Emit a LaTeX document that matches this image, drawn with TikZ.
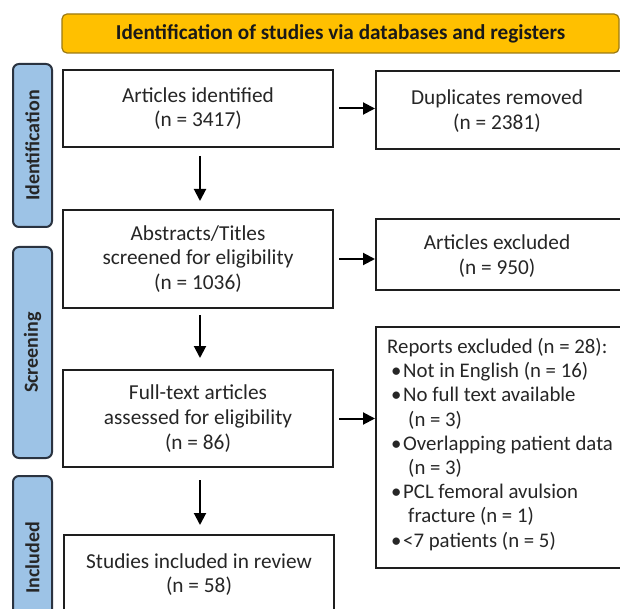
\documentclass[tikz,border=0pt]{standalone}
\usepackage{fontspec}
\setmainfont{Carlito}
\usetikzlibrary{arrows.meta}
\definecolor{hdrfill}{HTML}{FFC000}
\definecolor{hdrline}{HTML}{9C7A12}
\definecolor{sidefill}{HTML}{9DC3E6}
\definecolor{sideline}{HTML}{2A3340}
\definecolor{txt}{HTML}{262626}
\definecolor{boxline}{HTML}{1E1E1E}
\tikzset{
  bodyfont/.style={font=\fontsize{21.3}{24.6}\selectfont},
  flowbox/.style={draw=boxline, line width=2pt, fill=white, align=center, text=txt,
    bodyfont, inner sep=0pt},
  sidebox/.style={draw=sideline, line width=2pt, fill=sidefill, rounded corners=6pt,
    rotate=90, inner sep=0pt, font=\bfseries\fontsize{20}{22}\selectfont, text=black!85},
  hdrbox/.style={draw=hdrline, line width=1.2pt, fill=hdrfill, rounded corners=5pt,
    inner sep=0pt, font=\bfseries\fontsize{21.2}{22}\selectfont, text=black!90},
  flowarrow/.style={draw=black, line width=2pt, -{Triangle[length=12pt,width=12pt]}}
}
\newcommand{\bul}{\makebox[14pt][c]{\textbullet}}
\begin{document}
\begin{tikzpicture}[x=1pt,y=-1pt]
\useasboundingbox (0,0) rectangle (620,609);
\fill[white] (0,0) rectangle (620,609);
\clip (0,0) rectangle (620,609);
\node[hdrbox, minimum width=557pt, minimum height=39pt] (hdr) at (340.5,33.5) {Identification of studies via databases and registers};
\node[sidebox, minimum width=163pt, minimum height=39pt] (sid) at (32.5,145.5) {Identification};
\node[sidebox, minimum width=211pt, minimum height=39pt] (sscr) at (32.5,352.5) {Screening};
\node[sidebox, minimum width=164pt, minimum height=39pt] (sinc) at (32.5,558) {Included};
\node[flowbox, minimum width=270pt, minimum height=77pt] (A) at (198,108.5) {Articles identified\\(n = 3417)};
\node[flowbox, minimum width=249pt, minimum height=78pt] (dup) at (500.5,110) {};
\node[align=center, text=txt, bodyfont, inner sep=0pt] (duptext) at (497,111) {Duplicates removed\\(n = 2381)};
\node[flowbox, minimum width=270pt, minimum height=98pt] (B) at (198,259) {Abstracts/Titles\\screened for eligibility\\(n = 1036)};
\node[flowbox, minimum width=249pt, minimum height=71pt] (excl) at (500.5,254.5) {};
\node[align=center, text=txt, bodyfont, inner sep=0pt] (excltext) at (497,256) {Articles excluded\\(n = 950)};
\node[flowbox, minimum width=270pt, minimum height=97pt] (C) at (198,418.5) {Full-text articles\\assessed for eligibility\\(n = 86)};
\node[flowbox, minimum width=249pt, minimum height=241pt] (rep) at (500.5,447.5) {};
\node[anchor=north west, align=left, text=txt, inner sep=0pt, font=\fontsize{20.8}{24.2}\selectfont] (reptext) at (387,338) {Reports excluded (n = 28):\\
\hspace*{2pt}\bul Not in English (n = 16)\\
\hspace*{2pt}\bul No full text available\\
\hspace*{21pt}(n = 3)\\
\hspace*{2pt}\bul Overlapping patient data\\
\hspace*{21pt}(n = 3)\\
\hspace*{2pt}\bul PCL femoral avulsion\\
\hspace*{21pt}fracture (n = 1)\\
\hspace*{2pt}\bul <7 patients (n = 5)};
\node[flowbox, minimum width=270pt, minimum height=79pt] (D) at (199,574.5) {Studies included in review\\(n = 58)};
\draw[flowarrow, shorten <=5pt] (A.east) -- (A.east -| dup.west);
\draw[flowarrow, shorten <=5pt] (B.east) -- (B.east -| excl.west);
\draw[flowarrow, shorten <=5pt] (C.east) -- (C.east -| rep.west);
\draw[flowarrow, shorten <=8pt, shorten >=8pt] ([xshift=2pt]A.south) -- ([xshift=2pt]B.north);
\draw[flowarrow, shorten <=6pt, shorten >=11pt] ([xshift=2pt]B.south) -- ([xshift=2pt]C.north);
\draw[flowarrow, shorten <=12pt, shorten >=9pt] ([xshift=2pt]C.south) -- ([xshift=1pt]D.north);
\end{tikzpicture}
\end{document}
